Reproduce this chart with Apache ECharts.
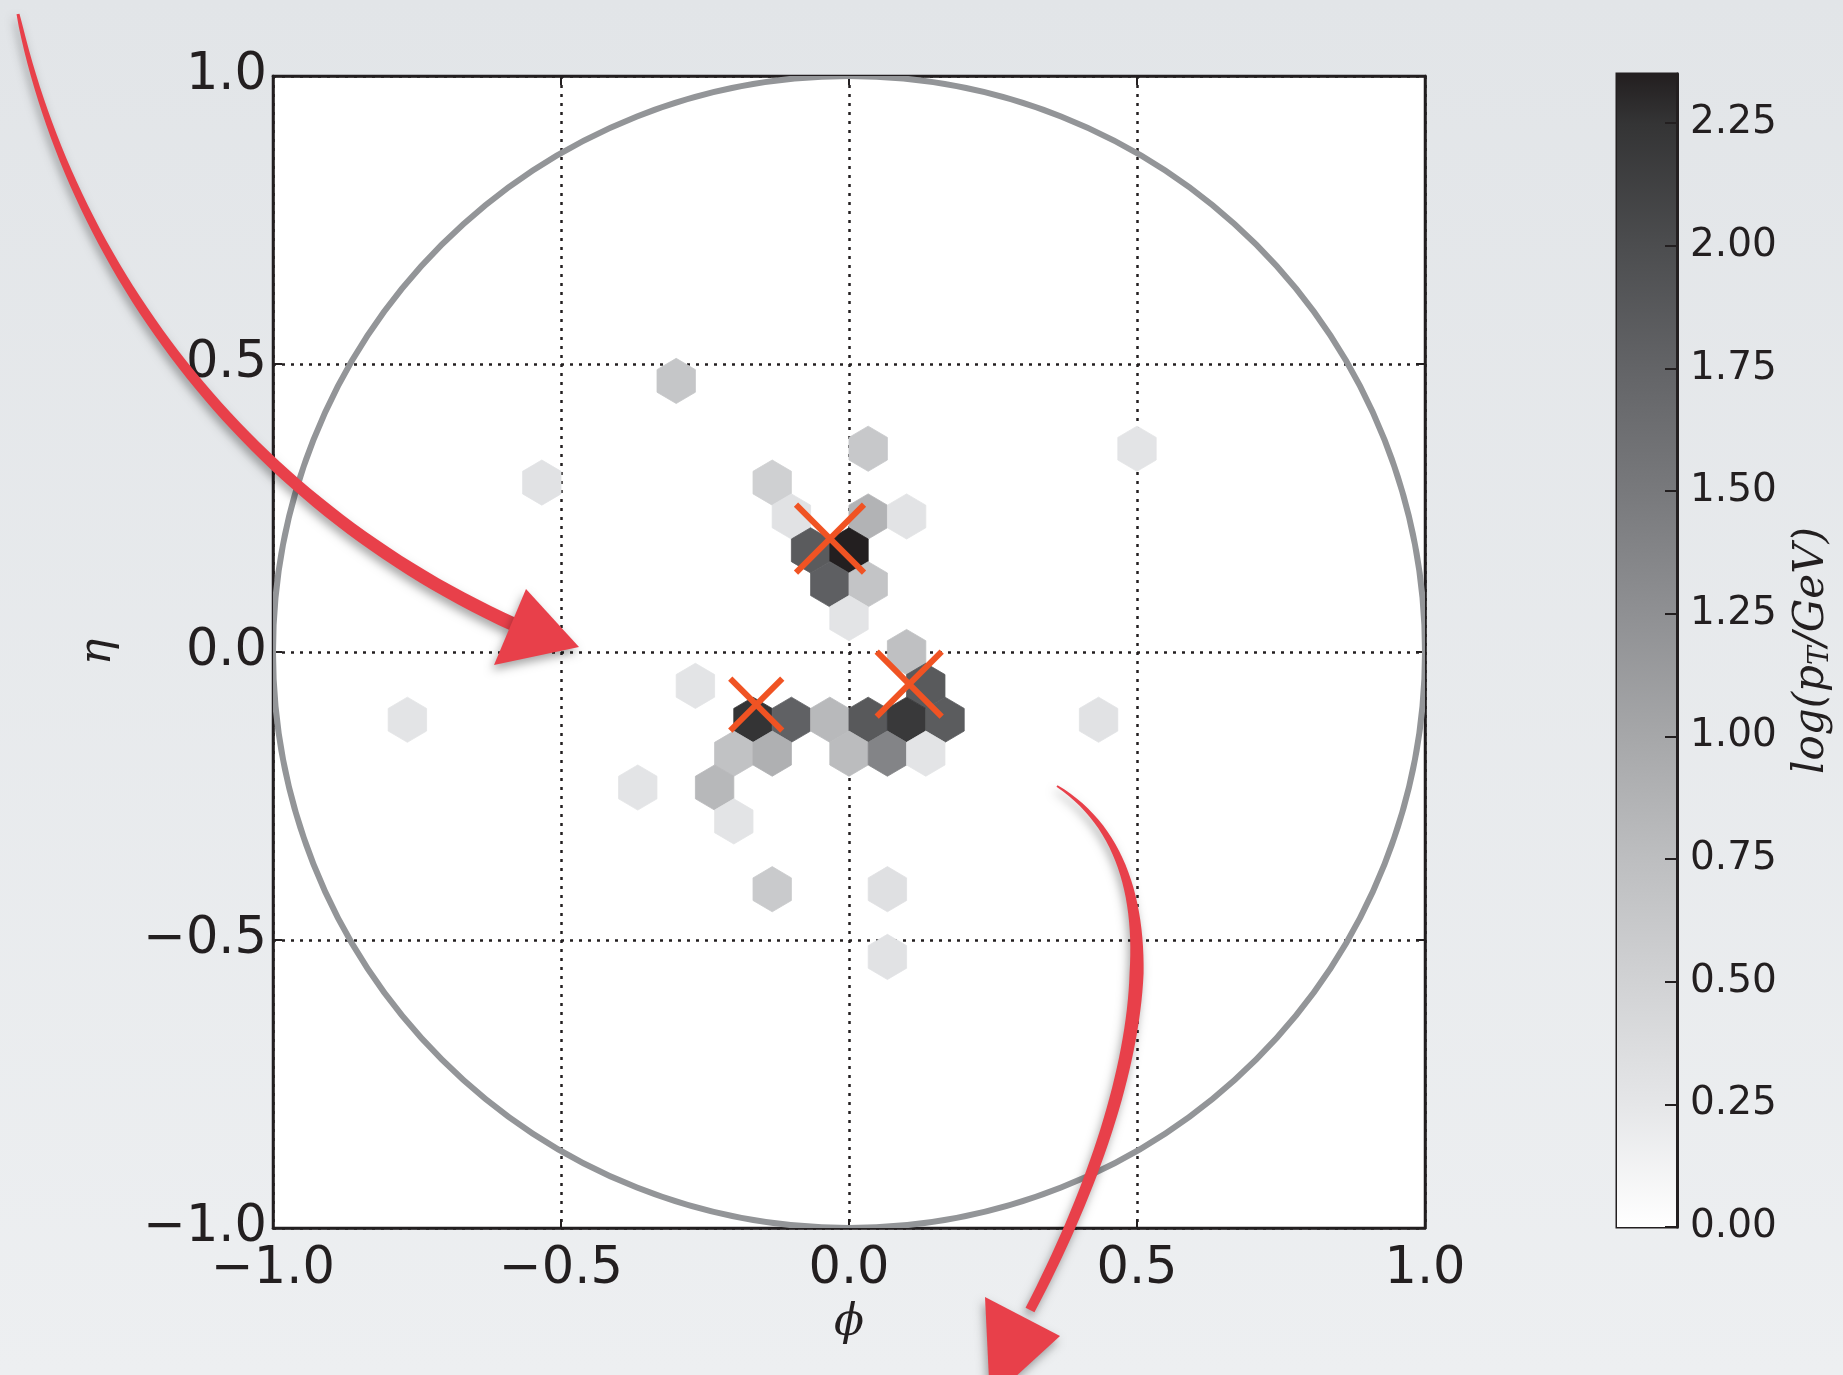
<!DOCTYPE html>
<html><head><meta charset="utf-8">
<script src="https://cdn.jsdelivr.net/npm/echarts@6/dist/echarts.min.js"></script>
<style>html,body{margin:0;padding:0;background:#e8ebee;} #c{width:1843px;height:1375px;}</style>
</head><body><div id="c"></div>
<script>
// ---------------- data ----------------
// hexbin cells: centre (phi, eta) and log(pT/GeV)
const hexPhi = [-0.3000,-0.5333, 0.0333, 0.5000,-0.1333,-0.1000, 0.0333, 0.1000,-0.0667, 0.0000,
                -0.0333, 0.0333, 0.0000, 0.1000, 0.1333,-0.2667,-0.1667,-0.1000,-0.0333, 0.0333,
                 0.1000, 0.1667,-0.2000,-0.1333, 0.0000, 0.0667, 0.1333,-0.3667,-0.2333,-0.2000,
                -0.1333, 0.0667, 0.0667,-0.7667, 0.4333];
const hexEta = [ 0.4706, 0.2941, 0.3529, 0.3529, 0.2941, 0.2353, 0.2353, 0.2353, 0.1765, 0.1765,
                 0.1176, 0.1176, 0.0588, 0.0000,-0.0588,-0.0588,-0.1176,-0.1176,-0.1176,-0.1176,
                -0.1176,-0.1176,-0.1765,-0.1765,-0.1765,-0.1765,-0.1765,-0.2353,-0.2353,-0.2941,
                -0.4118,-0.4118,-0.5294,-0.1176,-0.1176];
const hexVal = [ 0.65, 0.30, 0.63, 0.28, 0.52, 0.30, 0.87, 0.29, 1.85, 2.35,
                 1.80, 0.68, 0.27, 0.72, 1.86, 0.28, 2.25, 1.78, 0.80, 1.87,
                 2.20, 1.84, 0.70, 0.90, 0.77, 1.38, 0.27, 0.28, 0.82, 0.28,
                 0.60, 0.33, 0.30, 0.28, 0.30];
// subjet axes (orange crosses)
const subjetPhi = [-0.033, -0.161, 0.1045];
const subjetEta = [ 0.197, -0.0915, -0.0559];
// jet radius circle
const jetPhi = [0], jetEta = [0], jetR = [1.0];
// axis ticks
const axisTicks = [-1.0, -0.5, 0.0, 0.5, 1.0];
const cbTicks = [0.00, 0.25, 0.50, 0.75, 1.00, 1.25, 1.50, 1.75, 2.00, 2.25];
const cbMax = 2.35;
// colour map stops (value -> grey)
const cmapVals = [0.00, 0.25, 0.50, 0.75, 1.00, 1.25, 1.50, 1.75, 2.00, 2.25, 2.35];
const cmapCols = ['#ffffff','#e5e6e8','#d1d2d4','#bdbec0','#a6a7a9','#8f9093','#78797c','#636467','#4c4d4f','#343435','#231f20'];

// ---------------- styles ----------------
const INK = '#231f20';
const HEX_SX = 2/30, HEX_SY = 2/17;          // hexbin lattice spacing (gridsize 30 over [-1,1])
const CROSS_PX = [68, 52, 65];
const CROSS_COLOR = '#f05323';

function hex2rgb(h){return [parseInt(h.substr(1,2),16),parseInt(h.substr(3,2),16),parseInt(h.substr(5,2),16)];}
function cmap(v){
  if (v <= cmapVals[0]) return cmapCols[0];
  for (let i=1;i<cmapVals.length;i++){
    if (v <= cmapVals[i]){
      const f=(v-cmapVals[i-1])/(cmapVals[i]-cmapVals[i-1]);
      const a=hex2rgb(cmapCols[i-1]), b=hex2rgb(cmapCols[i]);
      return 'rgb('+a.map((c,k)=>Math.round(c+(b[k]-c)*f)).join(',')+')';
    }
  }
  return cmapCols[cmapCols.length-1];
}
const fmtTick = v => (v<0?'\u2212':'') + Math.abs(v).toFixed(1);

const hexData = hexPhi.map((p,i)=>[p, hexEta[i], hexVal[i]]);
const crossData = subjetPhi.map((p,i)=>[p, subjetEta[i], i]);
const circleData = jetPhi.map((p,i)=>[p, jetEta[i], jetR[i]]);

// ---------------- arrows (annotation) ----------------
function cubic(P,t){const u=1-t;return [u*u*u*P[0][0]+3*u*u*t*P[1][0]+3*u*t*t*P[2][0]+t*t*t*P[3][0],
  u*u*u*P[0][1]+3*u*u*t*P[1][1]+3*u*t*t*P[2][1]+t*t*t*P[3][1]];}
function dcubic(P,t){const u=1-t;return [3*u*u*(P[1][0]-P[0][0])+6*u*t*(P[2][0]-P[1][0])+3*t*t*(P[3][0]-P[2][0]),
  3*u*u*(P[1][1]-P[0][1])+6*u*t*(P[2][1]-P[1][1])+3*t*t*(P[3][1]-P[2][1])];}
function body(P, wf){
  const L=[],R=[];const n=60;
  for(let i=0;i<=n;i++){const t=i/n;const p=cubic(P,t);const d=dcubic(P,t);const len=Math.hypot(d[0],d[1])||1;
    const nx=-d[1]/len, ny=d[0]/len; const w=wf(t)/2;
    L.push([p[0]+nx*w,p[1]+ny*w]); R.push([p[0]-nx*w,p[1]-ny*w]);}
  return L.concat(R.reverse());
}
const arrowStyle = {fill:'#e8404a', shadowBlur:10, shadowColor:'rgba(0,0,0,0.35)', shadowOffsetX:-2, shadowOffsetY:5};
const arrow1 = body([[18,14],[70,260],[240,500],[515,625]], t=>3+11*Math.pow(t,0.6));
const arrow2 = body([[1057,786],[1190,870],[1140,1100],[1030,1310]], t=> t<0.45 ? 2+12*(t/0.45) : 14-4*((t-0.45)/0.55));

const chart = echarts.init(document.getElementById('c'), null, {renderer:'canvas'});
const axisLabelStyle = {fontFamily:'DejaVu Sans', fontSize:51, color:INK};
const frameLine = {show:true, onZero:false, lineStyle:{color:INK, width:2.5}};
const frameTick = {show:true, inside:true, length:9, lineStyle:{color:INK, width:2}};
const gridDots = {show:true, lineStyle:{color:INK, width:2.5, type:[3,6]}};
const option = {
  animation:false,
  backgroundColor: new echarts.graphic.LinearGradient(0,0,0,1,[{offset:0,color:'#e2e5e8'},{offset:1,color:'#edeff1'}]),
  grid:[
    {left:273, top:76, width:1152, height:1152, show:true, backgroundColor:'#ffffff', borderColor:INK, borderWidth:2.5, containLabel:false},
    {left:1617, top:74, width:60, height:1153, show:true, backgroundColor:'#ffffff', borderColor:INK, borderWidth:3, containLabel:false}
  ],
  xAxis:[
    {gridIndex:0, type:'value', min:-1, max:1, interval:0.5, position:'bottom',
     axisLine:frameLine, axisTick:frameTick,
     axisLabel:{show:true, margin:16, formatter:fmtTick, ...axisLabelStyle, showMinLabel:true, showMaxLabel:true},
     splitLine:gridDots,
     name:'\u03d5', nameLocation:'middle', nameGap:74,
     nameTextStyle:{fontFamily:'DejaVu Serif', fontStyle:'italic', fontSize:44, color:INK}},
    {gridIndex:0, type:'value', min:-1, max:1, interval:0.5, position:'top',
     axisLine:frameLine, axisTick:frameTick, axisLabel:{show:false}, splitLine:{show:false}},
    {gridIndex:1, type:'value', min:0, max:1, show:false}
  ],
  yAxis:[
    {gridIndex:0, type:'value', min:-1, max:1, interval:0.5, position:'left',
     axisLine:frameLine, axisTick:frameTick,
     axisLabel:{show:true, margin:6, padding:[10,0,0,0], formatter:fmtTick, ...axisLabelStyle, showMinLabel:true, showMaxLabel:true},
     splitLine:gridDots,
     name:'\u03b7', nameLocation:'middle', nameGap:152, nameRotate:90,
     nameTextStyle:{fontFamily:'DejaVu Serif', fontStyle:'italic', fontSize:44, color:INK}},
    {gridIndex:0, type:'value', min:-1, max:1, interval:0.5, position:'right',
     axisLine:frameLine, axisTick:frameTick, axisLabel:{show:false}, splitLine:{show:false}},
    {gridIndex:1, type:'value', min:0, max:cbMax, interval:0.25, position:'right', z:10,
     axisLine:{show:true, onZero:false, lineStyle:{color:INK, width:3}},
     axisTick:{show:true, inside:true, length:12, lineStyle:{color:INK, width:2}},
     axisLabel:{show:true, margin:13, fontFamily:'DejaVu Sans', fontSize:39, color:INK,
       formatter:v => cbTicks.some(t=>Math.abs(t-v)<1e-6) ? v.toFixed(2) : ''},
     splitLine:{show:false},
     name:'{i|log(p}{s|T}{i|/GeV)}', nameLocation:'middle', nameGap:112, nameRotate:90,
     nameTextStyle:{color:INK, rich:{
        i:{fontFamily:'DejaVu Serif', fontStyle:'italic', fontSize:42, color:INK},
        s:{fontFamily:'DejaVu Serif', fontStyle:'italic', fontSize:28, color:INK, verticalAlign:'bottom', padding:[18,0,0,0]}}}}
  ],
  series:[
    {type:'custom', xAxisIndex:0, yAxisIndex:0, data:hexData, encode:{x:0,y:1}, z:2,
     renderItem:(params, api)=>{
       const x=api.value(0), y=api.value(1);
       const off=[[.5,-.5],[.5,.5],[0,1],[-.5,.5],[-.5,-.5],[0,-1]];
       const pts=off.map(o=>api.coord([x+o[0]*HEX_SX, y+o[1]*HEX_SY/3]));
       const col=cmap(api.value(2));
       return {type:'polygon', shape:{points:pts}, style:{fill:col, stroke:col, lineWidth:0.8}};
     }},
    {type:'custom', xAxisIndex:0, yAxisIndex:0, data:circleData, encode:{x:0,y:1}, z:3, clip:true,
     renderItem:(params, api)=>{
       const c=api.coord([api.value(0), api.value(1)]);
       const e=api.coord([api.value(0)+api.value(2), api.value(1)]);
       return {type:'circle', shape:{cx:c[0], cy:c[1], r:e[0]-c[0]}, style:{fill:'none', stroke:'#939598', lineWidth:6}};
     }},
    {type:'custom', xAxisIndex:0, yAxisIndex:0, data:crossData, encode:{x:0,y:1}, z:4,
     renderItem:(params, api)=>{
       const c=api.coord([api.value(0), api.value(1)]);
       const h=CROSS_PX[api.value(2)]/2;
       const st={stroke:CROSS_COLOR, lineWidth:6, lineCap:'butt'};
       return {type:'group', children:[
         {type:'line', shape:{x1:c[0]-h,y1:c[1]-h,x2:c[0]+h,y2:c[1]+h}, style:st},
         {type:'line', shape:{x1:c[0]-h,y1:c[1]+h,x2:c[0]+h,y2:c[1]-h}, style:st}]};
     }},
    {type:'custom', xAxisIndex:2, yAxisIndex:2, data:[[0, 0, 1, cbMax]], encode:{x:[0,2], y:[1,3]}, z:1,
     renderItem:(params, api)=>{
       const p0=api.coord([api.value(0), api.value(1)]);
       const p1=api.coord([api.value(2), api.value(3)]);
       const stops=cmapVals.map((v,i)=>({offset:1-v/cbMax, color:cmapCols[i]})).reverse();
       return {type:'rect', shape:{x:p0[0], y:p1[1], width:p1[0]-p0[0], height:p0[1]-p1[1]},
         style:{fill:new echarts.graphic.LinearGradient(0,0,0,1,stops)}};
     }}
  ],
  graphic:[
    {type:'polygon', z:100, shape:{points:arrow1}, style:arrowStyle},
    {type:'polygon', z:100, shape:{points:[[526,589],[494,665],[579,647]]}, style:arrowStyle},
    {type:'polygon', z:100, shape:{points:arrow2}, style:arrowStyle},
    {type:'polygon', z:100, shape:{points:[[985,1297],[1060,1336],[990,1400]]}, style:arrowStyle}
  ]
};
chart.setOption(option);
</script></body></html>
